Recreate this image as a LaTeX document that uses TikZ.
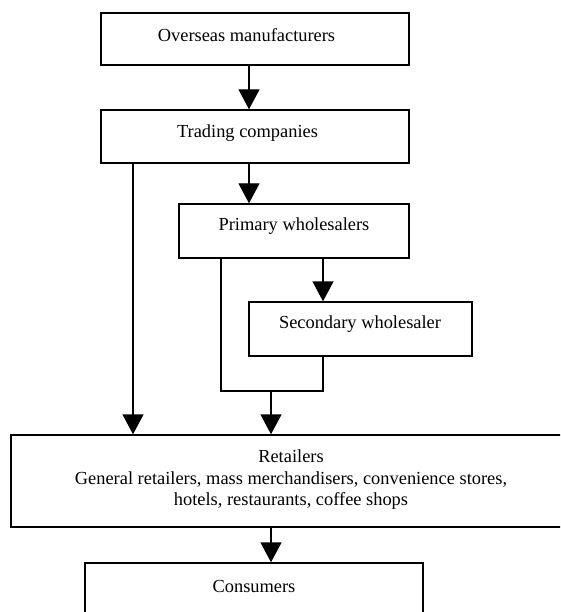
\documentclass[tikz,border=0pt]{standalone}
\usepackage{fontspec}
\setmainfont{Liberation Serif}
\usetikzlibrary{arrows.meta}
\begin{document}
\begin{tikzpicture}[x=1pt,y=-1pt,
  box/.style={draw=black,line width=1.4pt,inner sep=0pt,minimum width=#1},
  txt/.style={inner sep=0pt,font=\fontsize{18.4}{21.5}\selectfont,align=center},
  ln/.style={line width=1.4pt},
  arr/.style={line width=1.4pt,-{Triangle[length=20pt,width=21pt]}}]
\useasboundingbox (0,0) rectangle (560,612);
\fill[white] (0,0) rectangle (560,612);
\clip (0,0) rectangle (560,612);
% boxes
\node[box=308pt,minimum height=52pt] (om) at (255,39) {};
\node[box=308pt,minimum height=53pt] (tc) at (255,136.5) {};
\node[box=230pt,minimum height=54pt] (pw) at (294,231) {};
\node[box=223pt,minimum height=54pt] (sw) at (360.5,329) {};
\node[box=560pt,minimum height=92pt] (rt) at (291,481) {};
\node[box=338pt,minimum height=54pt] (cs) at (254,590) {};
% texts
\node[txt] (omt) at (246.5,35) {Overseas manufacturers};
\node[txt] (tct) at (247.5,133) {Trading companies};
\node[txt] (pwt) at (294,226) {Primary wholesalers};
\node[txt] (swt) at (360,324) {Secondary wholesaler};
\node[txt] (rtt) at (291,480) {Retailers\\General retailers, mass merchandisers, convenience stores,\\hotels, restaurants, coffee shops};
\node[txt] (cst) at (254,586) {Consumers};
% x positions of connectors
\coordinate (xa) at (249,0);
\coordinate (xb) at (133,0);
\coordinate (xc) at (323,0);
\coordinate (xd) at (221,0);
\coordinate (j) at (271,391);
% connectors
\draw[arr] (om.south -| xa) -- (tc.north -| xa);
\draw[arr] (tc.south -| xa) -- (pw.north -| xa);
\draw[arr] (tc.south -| xb) -- (rt.north -| xb);
\draw[arr] (pw.south -| xc) -- (sw.north -| xc);
\draw[ln] (pw.south -| xd) |- (j) -| (sw.south -| xc);
\draw[arr] (j) -- (rt.north -| j);
\draw[arr] (rt.south -| j) -- (cs.north -| j);
\end{tikzpicture}
\end{document}
